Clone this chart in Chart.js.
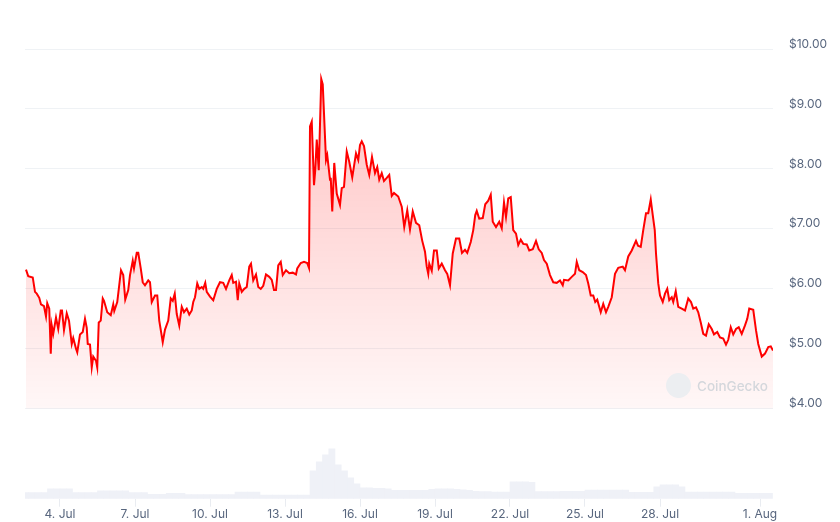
<!DOCTYPE html>
<html>
<head>
<meta charset="utf-8">
<script src="https://cdn.jsdelivr.net/npm/chart.js@4.4.1/dist/chart.umd.min.js"></script>
<style>
  html, body { margin: 0; padding: 0; background: #fff; }
  #wrap { position: relative; width: 840px; height: 522px; }
  #mark { position: absolute; left: 666px; top: 373px; display: flex; align-items: center;
          font-family: Inter, "Noto Sans", sans-serif; font-size: 13.5px; font-weight: 500; color: #d4d7dc; }
  #mark span.logo { width: 25px; height: 25px; border-radius: 50%; background: #eceef1; margin-right: 6px; }
</style>
</head>
<body>
<div id="wrap">
  <canvas id="priceChart" width="840" height="522"></canvas>
  <div id="mark"><span class="logo"></span>CoinGecko</div>
</div>
<script>
// price, day of July (32 = 1 Aug)
const priceDays = [
  2.64, 2.73, 2.91, 3.00, 3.07, 3.17, 3.24, 3.36, 3.44, 3.49, 3.57, 3.63, 3.67, 3.73, 3.84, 3.93,
  4.03, 4.08, 4.16, 4.27, 4.36, 4.47, 4.53, 4.64, 4.69, 4.80, 4.91, 5.00, 5.07, 5.11, 5.20, 5.27,
  5.33, 5.44, 5.49, 5.55, 5.63, 5.71, 5.76, 5.89, 6.03, 6.13, 6.17, 6.29, 6.44, 6.53, 6.61, 6.73,
  6.80, 6.91, 6.96, 7.07, 7.13, 7.23, 7.31, 7.40, 7.53, 7.60, 7.67, 7.80, 7.89, 7.97, 8.11, 8.20,
  8.33, 8.43, 8.51, 8.59, 8.67, 8.77, 8.87, 8.96, 9.07, 9.17, 9.27, 9.33, 9.40, 9.49, 9.57, 9.67,
  9.73, 9.81, 9.87, 10.00, 10.13, 10.27, 10.40, 10.53, 10.64, 10.77, 10.87, 10.93, 11.04, 11.11, 11.17, 11.27,
  11.37, 11.47, 11.57, 11.64, 11.73, 11.84, 11.93, 12.03, 12.13, 12.24, 12.37, 12.47, 12.56, 12.64, 12.73, 12.83,
  12.91, 13.04, 13.17, 13.31, 13.44, 13.49, 13.63, 13.76, 13.89, 13.96, 14.00, 14.07, 14.16, 14.21, 14.27, 14.35,
  14.45, 14.51, 14.64, 14.69, 14.80, 14.83, 14.89, 14.97, 15.07, 15.20, 15.27, 15.36, 15.47, 15.57, 15.69, 15.84,
  15.93, 16.00, 16.07, 16.16, 16.27, 16.37, 16.48, 16.60, 16.69, 16.77, 16.87, 16.96, 17.07, 17.17, 17.27, 17.36,
  17.53, 17.67, 17.77, 17.89, 18.00, 18.11, 18.24, 18.37, 18.49, 18.60, 18.67, 18.73, 18.77, 18.87, 18.96, 19.07,
  19.15, 19.27, 19.40, 19.49, 19.60, 19.71, 19.84, 19.97, 20.08, 20.20, 20.29, 20.43, 20.53, 20.61, 20.67, 20.77,
  20.91, 21.01, 21.13, 21.23, 21.31, 21.44, 21.57, 21.67, 21.76, 21.84, 21.93, 22.03, 22.13, 22.24, 22.33, 22.43,
  22.53, 22.67, 22.77, 22.91, 23.04, 23.15, 23.27, 23.36, 23.47, 23.60, 23.73, 23.87, 24.00, 24.11, 24.16, 24.33,
  24.47, 24.60, 24.67, 24.77, 24.91, 25.04, 25.13, 25.23, 25.33, 25.41, 25.49, 25.63, 25.73, 25.84, 25.93, 26.07,
  26.20, 26.33, 26.51, 26.60, 26.73, 26.87, 27.04, 27.12, 27.23, 27.33, 27.44, 27.53, 27.63, 27.71, 27.79, 27.84,
  27.93, 28.00, 28.11, 28.20, 28.29, 28.37, 28.47, 28.53, 28.63, 28.73, 28.87, 29.00, 29.13, 29.24, 29.33, 29.44,
  29.53, 29.63, 29.73, 29.84, 29.95, 30.07, 30.16, 30.29, 30.40, 30.53, 30.64, 30.73, 30.83, 30.93, 31.04, 31.15,
  31.27, 31.40, 31.49, 31.57, 31.73, 31.84, 31.93, 32.07, 32.20, 32.33, 32.43, 32.52
];
const prices = [
  6.32, 6.21, 6.19, 5.95, 5.92, 5.85, 5.74, 5.71, 5.54, 5.76, 5.67, 4.92, 5.39, 5.25, 5.52, 5.33,
  5.64, 5.64, 5.31, 5.59, 5.47, 5.08, 5.18, 5.00, 4.94, 5.24, 5.28, 5.50, 5.35, 5.08, 5.07, 4.69,
  4.87, 4.80, 4.69, 5.44, 5.47, 5.84, 5.80, 5.61, 5.56, 5.74, 5.63, 5.78, 6.31, 6.23, 5.82, 5.98,
  6.23, 6.47, 6.34, 6.60, 6.60, 6.34, 6.11, 6.06, 6.14, 6.11, 5.78, 5.89, 5.89, 5.47, 5.11, 5.32,
  5.47, 5.84, 5.80, 5.92, 5.58, 5.39, 5.70, 5.61, 5.67, 5.57, 5.64, 5.78, 5.86, 6.09, 6.00, 6.03,
  6.00, 6.10, 5.95, 5.87, 5.81, 6.00, 6.11, 6.10, 6.00, 6.14, 6.23, 6.10, 6.12, 5.81, 6.09, 5.95,
  6.00, 6.03, 6.37, 6.42, 6.14, 6.24, 6.03, 6.00, 6.05, 6.24, 6.20, 6.15, 5.98, 5.98, 6.39, 6.45,
  6.23, 6.31, 6.26, 6.27, 6.24, 6.34, 6.43, 6.45, 6.43, 6.35, 8.71, 8.79, 7.73, 7.98, 8.49, 7.98,
  9.50, 9.41, 8.15, 8.23, 7.82, 7.85, 7.29, 8.10, 7.59, 7.40, 7.68, 7.70, 8.29, 8.12, 7.86, 8.26,
  8.15, 8.40, 8.46, 8.38, 8.07, 7.90, 8.20, 7.93, 8.03, 7.82, 7.93, 7.80, 7.85, 7.90, 7.55, 7.60,
  7.54, 7.37, 7.03, 7.31, 6.99, 7.29, 7.10, 7.06, 6.80, 6.62, 6.37, 6.25, 6.42, 6.30, 6.64, 6.64,
  6.34, 6.42, 6.31, 6.25, 6.06, 6.59, 6.84, 6.84, 6.60, 6.65, 6.60, 6.78, 6.98, 7.23, 7.30, 7.17,
  7.18, 7.41, 7.47, 7.57, 7.12, 7.03, 7.12, 7.01, 7.44, 7.20, 7.51, 7.53, 6.98, 6.92, 6.73, 6.82,
  6.75, 6.74, 6.64, 6.66, 6.80, 6.66, 6.60, 6.48, 6.42, 6.23, 6.11, 6.10, 6.14, 6.06, 6.15, 6.14,
  6.20, 6.25, 6.45, 6.31, 6.28, 6.23, 6.09, 5.89, 5.89, 5.78, 5.82, 5.61, 5.75, 5.61, 5.70, 5.86,
  6.25, 6.35, 6.37, 6.31, 6.54, 6.64, 6.80, 6.72, 6.70, 6.98, 7.26, 7.26, 7.49, 7.23, 6.98, 6.59,
  6.09, 5.89, 5.78, 5.92, 6.00, 5.81, 5.86, 5.78, 5.96, 5.70, 5.67, 5.64, 5.84, 5.78, 5.67, 5.69,
  5.61, 5.44, 5.25, 5.22, 5.41, 5.33, 5.24, 5.28, 5.19, 5.17, 5.07, 5.15, 5.36, 5.24, 5.33, 5.36,
  5.25, 5.39, 5.50, 5.67, 5.65, 5.31, 5.08, 4.87, 4.92, 5.03, 5.04, 4.97
];

// volume, one bar per quarter day starting 2 Jul 15:00
const volStart = 2.625;
const volStep = 0.25;
const volumes = [
  6, 6, 6, 6,  10, 10, 10, 10,  6, 6, 6, 6,  8, 8, 8, 8,
  8, 6, 6, 6,  4.3, 4.3, 4.3, 5.3,  5.3, 5.3, 4, 4,  4, 4, 4, 4, 4, 4,
  6.7, 6.7, 6.7, 6.7,  3.7, 3.7, 3.7, 3.7, 3.7, 3.7, 3.7, 3.7,
  28, 37, 44, 50,  34, 28, 21, 15,  11, 11, 10.5, 10.5, 10,
  8.5, 8.5, 8.5, 8.5, 8.5, 8.5,  9.5, 10, 10, 10, 9.5, 9, 8.5,
  7.5, 7, 7, 6.5, 6.5, 6.5,  17, 17, 17, 16.5,
  7, 7, 7, 7, 7.5, 7.5, 7.5, 7.5,  8.7, 8.7, 8.7, 8.7, 8.7, 8.7, 8.7,
  6.3, 6.3, 6.3, 6.3,  12, 14, 14, 14, 12,
  6.7, 6.7, 6.7, 6.7, 6.7, 6.7, 6.7, 6.7,  5.3, 5.3, 5.3, 5.3, 5.3, 5.3
];

const tickDays = [4, 7, 10, 13, 16, 19, 22, 25, 28, 32];
const tickLabels = ['4. Jul', '7. Jul', '10. Jul', '13. Jul', '16. Jul', '19. Jul', '22. Jul', '25. Jul', '28. Jul', '1. Aug'];

const priceTicks = [4, 5, 6, 7, 8, 9, 10];

const labelColor = '#58667e';
const gridColor = '#eff2f5';
Chart.defaults.font.family = 'Inter, "Noto Sans", sans-serif';
Chart.defaults.font.size = 12;
Chart.defaults.color = labelColor;

const priceData = priceDays.map((d, i) => ({ x: d, y: prices[i] }));
const volumeData = volumes.map((v, i) => ({ x: volStart + i * volStep, y: v }));

new Chart(document.getElementById('priceChart'), {
    type: 'line',
    data: {
        datasets: [
            {
                type: 'line',
                data: priceData,
                xAxisID: 'x',
                yAxisID: 'y',
                borderColor: '#ff0000',
                borderWidth: 2,
                pointRadius: 0,
                tension: 0,
                fill: 'origin',
                backgroundColor: function (context) {
                    const chart = context.chart;
                    const yScale = chart.scales.y;
                    if (!chart.chartArea || !yScale || !isFinite(yScale.top) || !isFinite(yScale.bottom)) {
                        return 'rgba(255,0,0,0.1)';
                    }
                    const g = chart.ctx.createLinearGradient(0, yScale.top, 0, yScale.bottom);
                    g.addColorStop(0, 'rgba(255,0,0,0.26)');
                    g.addColorStop(1, 'rgba(255,0,0,0.03)');
                    return g;
                },
                order: 1
            },
            {
                type: 'bar',
                data: volumeData,
                xAxisID: 'x',
                yAxisID: 'yv',
                backgroundColor: '#eff1f7',
                borderWidth: 0,
                barPercentage: 1,
                categoryPercentage: 1,
                order: 2
            }
        ]
    },
    options: {
        responsive: false,
        animation: false,
        layout: { padding: { top: 49, left: 25, right: 0, bottom: 0 } },
        plugins: { legend: { display: false }, tooltip: { enabled: false } },
        scales: {
            x: {
                type: 'linear',
                min: 2.6,
                max: 32.52,
                offset: false,
                afterBuildTicks: function (scale) {
                    scale.ticks = tickDays.map(v => ({ value: v }));
                },
                afterFit: function (scale) { scale.height = 23.3; },
                ticks: {
                    padding: 0,
                    maxRotation: 0,
                    autoSkip: false,
                    callback: function (value) {
                        const i = tickDays.indexOf(value);
                        return i >= 0 ? tickLabels[i] : '';
                    }
                },
                grid: { offset: false, drawOnChartArea: false, drawTicks: true, tickLength: 8, color: '#e9ecf1' },
                border: { display: false }
            },
            y: {
                type: 'linear',
                position: 'right',
                stack: 'main',
                stackWeight: 4,
                min: 4,
                max: 10,
                afterBuildTicks: function (scale) {
                    scale.ticks = priceTicks.map(v => ({ value: v }));
                },
                afterFit: function (scale) { scale.width = 67; },
                ticks: {
                    padding: 16,
                    labelOffset: -5,
                    callback: function (value) { return '$' + value.toFixed(2); }
                },
                grid: { color: gridColor, drawTicks: false },
                border: { display: false }
            },
            yv: {
                type: 'linear',
                position: 'right',
                stack: 'main',
                stackWeight: 1,
                min: 0,
                max: 90,
                afterFit: function (scale) { scale.width = 67; },
                ticks: { display: false },
                grid: { display: false },
                border: { display: false }
            }
        }
    }
});
</script>
</body>
</html>
